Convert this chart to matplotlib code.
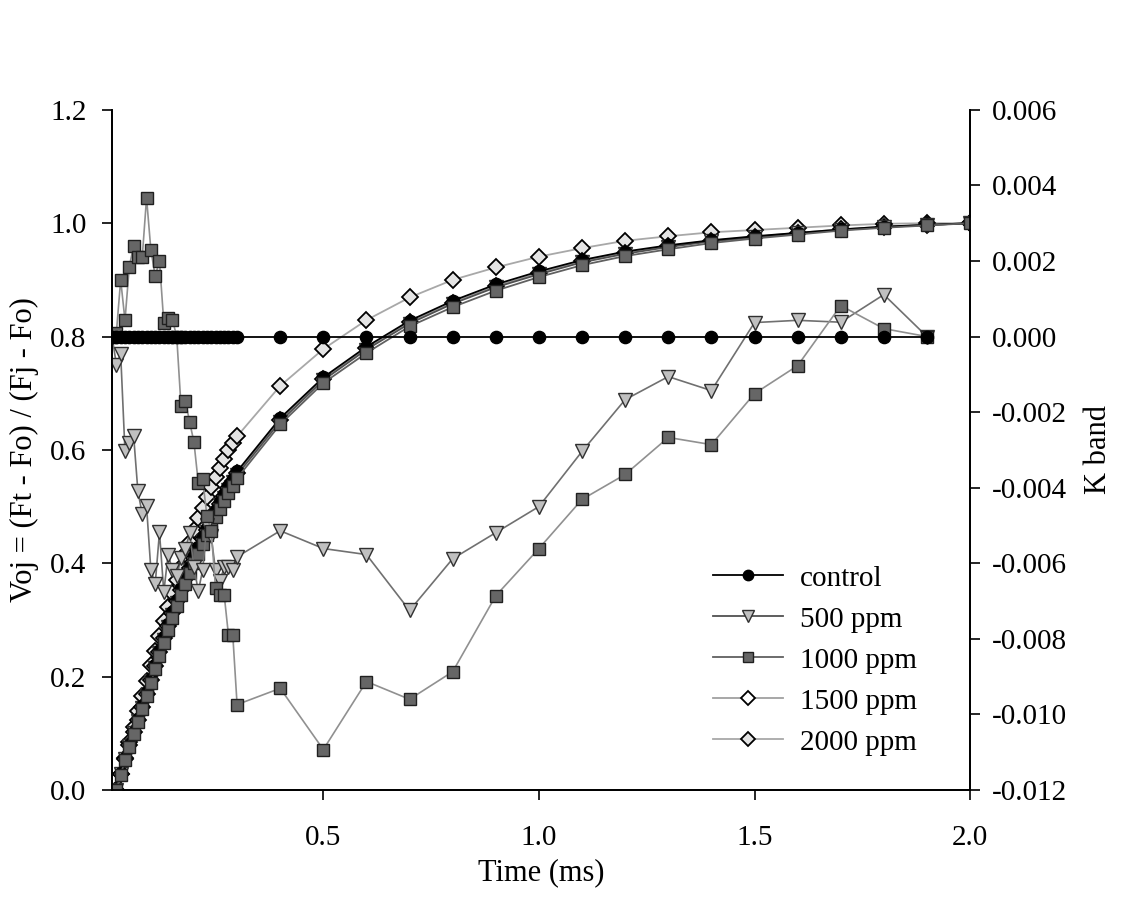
import numpy as np
import matplotlib
matplotlib.use("Agg")
import matplotlib.pyplot as plt
from matplotlib.ticker import FormatStrFormatter

plt.rcParams["font.family"] = ["Liberation Serif", "DejaVu Serif"]
plt.rcParams["axes.unicode_minus"] = False

# time points (ms)
t_early = [0.01, 0.02, 0.03, 0.04, 0.05, 0.06, 0.07, 0.08, 0.09, 0.10,
           0.11, 0.12, 0.13, 0.14, 0.15, 0.16, 0.17, 0.18, 0.19, 0.20,
           0.21, 0.22, 0.23, 0.24, 0.25, 0.26, 0.27, 0.28, 0.29, 0.30]
t_late = [0.4, 0.5, 0.6, 0.7, 0.8, 0.9, 1.0, 1.1, 1.2, 1.3, 1.4, 1.5,
          1.6, 1.7, 1.8, 1.9, 2.0]
t_voj = t_early[1:] + t_late
t_kband = t_early + t_late[:-1]

# Voj = (Ft - Fo) / (Fj - Fo)
voj_control = [0.000, 0.030, 0.056, 0.080, 0.103, 0.125, 0.148, 0.172, 0.196, 0.221,
               0.246, 0.270, 0.292, 0.314, 0.335, 0.356, 0.376, 0.394, 0.412, 0.429,
               0.446, 0.462, 0.478, 0.494, 0.508, 0.522, 0.536, 0.549, 0.562,
               0.656, 0.728, 0.782, 0.828, 0.863, 0.892, 0.915, 0.935, 0.950, 0.961,
               0.970, 0.977, 0.983, 0.989, 0.994, 0.997, 1.000]
voj_500 = [0.000, 0.028, 0.054, 0.078, 0.100, 0.122, 0.145, 0.168, 0.192, 0.216,
           0.241, 0.265, 0.287, 0.309, 0.330, 0.350, 0.370, 0.388, 0.406, 0.423,
           0.440, 0.456, 0.472, 0.487, 0.502, 0.516, 0.530, 0.543, 0.556,
           0.650, 0.723, 0.777, 0.823, 0.858, 0.887, 0.910, 0.931, 0.946, 0.958,
           0.968, 0.975, 0.982, 0.988, 0.993, 0.997, 1.000]
voj_1000 = [0.000, 0.027, 0.052, 0.075, 0.098, 0.120, 0.142, 0.165, 0.189, 0.213,
            0.237, 0.260, 0.282, 0.303, 0.324, 0.344, 0.364, 0.382, 0.400, 0.417,
            0.434, 0.450, 0.466, 0.481, 0.496, 0.510, 0.524, 0.537, 0.550,
            0.645, 0.718, 0.771, 0.818, 0.852, 0.881, 0.905, 0.926, 0.942, 0.954,
            0.965, 0.973, 0.980, 0.987, 0.992, 0.996, 1.000]
voj_1500 = [0.000, 0.029, 0.055, 0.079, 0.102, 0.124, 0.147, 0.170, 0.194, 0.219,
            0.244, 0.268, 0.290, 0.312, 0.333, 0.353, 0.373, 0.391, 0.409, 0.426,
            0.443, 0.459, 0.475, 0.490, 0.505, 0.519, 0.533, 0.546, 0.559,
            0.653, 0.725, 0.779, 0.825, 0.860, 0.889, 0.912, 0.933, 0.948, 0.960,
            0.969, 0.976, 0.983, 0.989, 0.994, 0.997, 1.000]
voj_2000 = [0.000, 0.028, 0.056, 0.084, 0.111, 0.139, 0.166, 0.193, 0.220, 0.246,
            0.272, 0.298, 0.323, 0.347, 0.371, 0.394, 0.416, 0.438, 0.459, 0.479,
            0.498, 0.517, 0.535, 0.552, 0.568, 0.584, 0.599, 0.613, 0.624,
            0.713, 0.778, 0.829, 0.869, 0.900, 0.922, 0.941, 0.956, 0.969, 0.977,
            0.984, 0.988, 0.992, 0.996, 0.999, 1.000, 1.000]

# K band
k_control = [0.0] * len(t_kband)
k_500 = [0.0, -0.00074, -0.00046, -0.00304, -0.00281, -0.00262, -0.00410, -0.00469,
         -0.00449, -0.00617, -0.00656, -0.00518, -0.00676, -0.00577, -0.00617,
         -0.00634, -0.00586, -0.00562, -0.00521, -0.00610, -0.00674, -0.00619,
         -0.00500, -0.00529, -0.00619, -0.00648, -0.00610, -0.00610, -0.00619,
         -0.00583,
         -0.00514, -0.00561, -0.00577, -0.00725, -0.00588, -0.00519, -0.00450,
         -0.00304, -0.00167, -0.00106, -0.00143, 0.00037, 0.00043, 0.00038,
         0.00111, 0.0]
k_1000 = [0.0, 0.0001, 0.0015, 0.00043, 0.00185, 0.0024, 0.0021, 0.0021, 0.00367,
          0.0023, 0.0016, 0.0020, 0.00037, 0.00048, 0.00045, 0.0, -0.00185,
          -0.0017, -0.00226, -0.0028, -0.00387, -0.00377, -0.00474, -0.00515,
          -0.00665, -0.00683, -0.00683, -0.0079, -0.0079, -0.00974,
          -0.00931, -0.01093, -0.00913, -0.0096, -0.00887, -0.00686, -0.00561,
          -0.00431, -0.00365, -0.00267, -0.00286, -0.00151, -0.00077, 0.00082,
          0.00021, 0.0]

labels = ["control", "500 ppm", "1000 ppm", "1500 ppm", "2000 ppm"]

fig = plt.figure(figsize=(11.25, 9.08), dpi=100)
ax1 = fig.add_axes([0.0996, 0.130, 0.7627, 0.749])
ax2 = ax1.twinx()

ms = 8.8
l_2000, = ax1.plot(t_voj, voj_2000, color="#a8a8a8", lw=1.3, marker="D", ms=8.2,
                   mfc="#e4e4e4", mec="black", mew=1.3, label=labels[4], zorder=2)
l_1500, = ax1.plot(t_voj, voj_1500, color="#a0a0a0", lw=1.3, marker="D", ms=8.2,
                   mfc="white", mec="black", mew=1.3, label=labels[3], zorder=2)
l_500, = ax1.plot(t_voj, voj_500, color="#505050", lw=1.3, marker="v", ms=ms + 1,
                  mfc="#c0c0c0", mec="#303030", mew=1.0, label=labels[1], zorder=2)
l_ctrl, = ax1.plot(t_voj, voj_control, color="black", lw=1.3, marker="o", ms=ms,
                   mfc="black", mec="black", label=labels[0], zorder=3)
l_1000, = ax1.plot(t_voj, voj_1000, color="#606060", lw=1.3, marker="s", ms=ms,
                   mfc="#666666", mec="#202020", mew=1.0, label=labels[2], zorder=3)

ax2.plot(t_kband, k_control, color="black", lw=1.3, marker="o", ms=ms,
         mfc="black", mec="black", zorder=3)
ax2.plot(t_kband, k_500, color="#707070", lw=1.2, marker="v", ms=ms + 1,
         mfc="#c0c0c0", mec="#303030", mew=1.0, zorder=2)
ax2.plot(t_kband, k_1000, color="#909090", lw=1.2, marker="s", ms=ms,
         mfc="#666666", mec="#202020", mew=1.0, zorder=2)

ax1.set_xlim(0.01, 2.0)
ax1.set_ylim(0.0, 1.2)
ax2.set_ylim(-0.012, 0.006)
ax1.set_xticks([0.5, 1.0, 1.5, 2.0])
ax1.set_yticks(np.arange(0, 1.21, 0.2))
ax2.set_yticks(np.arange(-0.012, 0.0061, 0.002))
ax1.xaxis.set_major_formatter(FormatStrFormatter("%.1f"))
ax1.yaxis.set_major_formatter(FormatStrFormatter("%.1f"))
ax2.yaxis.set_major_formatter(FormatStrFormatter("%.3f"))

for ax in (ax1, ax2):
    ax.spines["top"].set_visible(False)
    ax.tick_params(direction="out", length=7.5, width=1.2, labelsize=21)
    for s in ax.spines.values():
        s.set_linewidth(1.3)
ax1.tick_params(axis="x", pad=18)
ax1.tick_params(axis="y", pad=11)
ax2.tick_params(axis="y", pad=8.5)

ax1.set_xlabel("Time (ms)", fontsize=22, labelpad=5)
ax1.set_ylabel("Voj = (Ft - Fo) / (Fj - Fo)", fontsize=22, labelpad=8)
ax2.set_ylabel("K band", fontsize=22, labelpad=12)

ax1.legend(handles=[l_ctrl, l_500, l_1000, l_1500, l_2000], loc="upper left",
           bbox_to_anchor=(0.670, 0.369), frameon=False, fontsize=21,
           handlelength=2.4, handletextpad=0.58, labelspacing=0.5,
           markerscale=0.85)

fig.savefig("out.png", dpi=100)
